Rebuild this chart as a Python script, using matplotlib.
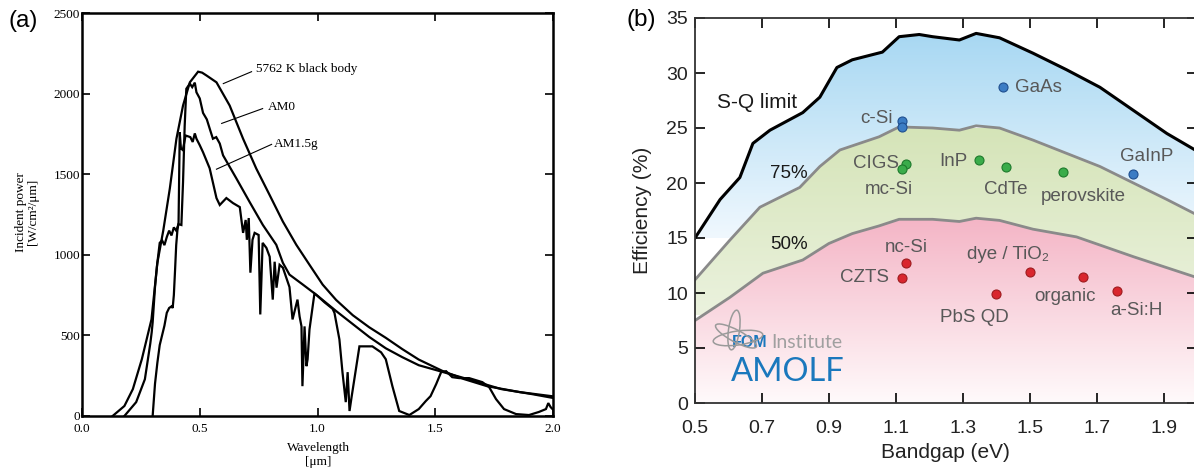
import numpy as np
import matplotlib
matplotlib.use("Agg")
import matplotlib.pyplot as plt
from matplotlib.colors import LinearSegmentedColormap
from matplotlib.patches import Ellipse

# ---- panel (a): solar spectra ----
bb_wl = [0.13, 0.18, 0.216, 0.254, 0.295, 0.32, 0.345, 0.373, 0.401, 0.429, 0.458, 0.493, 0.51, 0.53,
         0.571, 0.627, 0.684, 0.74, 0.797, 0.853, 0.91, 0.966, 1.022, 1.079, 1.15, 1.22, 1.29, 1.36,
         1.43, 1.53, 1.62, 1.72, 1.86, 2.0]
bb_p = [0, 62, 167, 352, 599, 950, 1150, 1412, 1720, 1926, 2070, 2136, 2130, 2111,
        2070, 1926, 1720, 1535, 1370, 1206, 1062, 938, 815, 720, 625, 550, 485, 415,
        350, 280, 230, 185, 148, 122]

am0_wl = [0.18, 0.23, 0.267, 0.29, 0.296, 0.30, 0.31, 0.318, 0.33, 0.34, 0.35, 0.36, 0.37, 0.38, 0.39,
          0.40, 0.41, 0.422, 0.429, 0.436, 0.443, 0.458, 0.468, 0.479, 0.486, 0.50, 0.514, 0.53, 0.545,
          0.556, 0.57, 0.585, 0.599, 0.655, 0.712, 0.768, 0.825, 0.853, 0.881, 0.938, 0.994, 1.08,
          1.15, 1.22, 1.29, 1.36, 1.43, 1.52, 1.64, 1.78, 1.91, 2.0]
am0_p = [0, 86, 228, 450, 520, 580, 800, 926, 1074, 1090, 1060, 1110, 1150, 1120, 1170,
         1150, 1190, 1185, 1450, 1800, 2030, 2062, 2040, 2068, 2008, 1970, 1880, 1840, 1770,
         1720, 1730, 1690, 1617, 1475, 1327, 1185, 1062, 950, 877, 815, 753, 650,
         570, 490, 420, 365, 315, 278, 228, 167, 136, 112]

am15_wl = [0.30, 0.305, 0.31, 0.32, 0.33, 0.34, 0.35, 0.36, 0.37, 0.38, 0.385, 0.39, 0.395, 0.40, 0.405,
           0.41, 0.415, 0.42, 0.428, 0.44, 0.46, 0.47, 0.479, 0.486, 0.50, 0.514, 0.542, 0.571, 0.585,
           0.613, 0.641, 0.67, 0.684, 0.695, 0.70, 0.708, 0.715, 0.724, 0.733, 0.75, 0.757,
           0.767, 0.783, 0.797, 0.81, 0.818, 0.826, 0.839, 0.853, 0.881, 0.894, 0.915, 0.924, 0.932,
           0.936, 0.945, 0.953, 0.958, 0.966, 0.987, 1.0, 1.03, 1.064, 1.072, 1.093, 1.106, 1.12,
           1.128, 1.136, 1.145, 1.165, 1.178, 1.233, 1.27, 1.29, 1.318, 1.347, 1.39, 1.43, 1.46,
           1.48, 1.504, 1.525, 1.546, 1.572, 1.602, 1.644, 1.70, 1.729, 1.758, 1.792, 1.843, 1.898,
           1.94, 1.97, 1.98, 1.99, 2.0]
am15_p = [0, 100, 200, 330, 440, 500, 560, 640, 670, 680, 670, 750, 900, 1060, 1150,
          1200, 1760, 1660, 1650, 1740, 1730, 1700, 1753, 1720, 1680, 1636, 1537, 1352, 1309,
          1352, 1321, 1296, 1136, 1216, 1093, 1228, 889, 1093, 1136, 1123, 630,
          1074, 1043, 988, 722, 957, 796, 938, 920, 800, 599, 722, 617, 556,
          185, 556, 309, 352, 537, 760, 745, 705, 665, 640, 475, 272, 86,
          272, 31, 120, 309, 432, 432, 395, 352, 185, 31, 6, 43, 93,
          123, 198, 272, 278, 241, 235, 235, 210, 179, 105, 43, 12, 6,
          25, 43, 80, 55, 40]

# ---- panel (b): efficiency vs bandgap ----
sq_eg = [0.5, 0.575, 0.634, 0.673, 0.724, 0.822, 0.873, 0.924, 0.97, 1.06, 1.11, 1.17, 1.21, 1.29,
         1.34, 1.41, 1.51, 1.61, 1.71, 1.81, 1.91, 2.0]
sq_eff = [15.0, 18.5, 20.5, 23.6, 24.8, 26.4, 27.8, 30.5, 31.2, 31.9, 33.3, 33.5, 33.3, 33.0,
          33.6, 33.2, 31.8, 30.3, 28.7, 26.6, 24.5, 22.9]
p75_eg = [0.5, 0.604, 0.694, 0.813, 0.873, 0.933, 1.05, 1.11, 1.21, 1.29, 1.34, 1.41, 1.51, 1.61,
          1.71, 1.81, 1.91, 2.0]
p75_eff = [11.2, 14.8, 17.8, 19.6, 21.5, 23.0, 24.2, 25.1, 25.0, 24.8, 25.2, 25.0, 23.9, 22.7,
           21.5, 20.0, 18.5, 17.1]
p50_eg = [0.5, 0.604, 0.703, 0.822, 0.9, 0.97, 1.05, 1.11, 1.21, 1.29, 1.34, 1.41, 1.51, 1.64,
          1.81, 2.0]
p50_eff = [7.5, 9.6, 11.8, 13.0, 14.5, 15.4, 16.1, 16.7, 16.7, 16.5, 16.8, 16.6, 15.8, 15.1,
           13.3, 11.4]

blue_names = ["c-Si", "c-Si", "GaAs", "GaInP"]
blue_eg = [1.12, 1.12, 1.42, 1.81]
blue_eff = [25.6, 25.1, 28.7, 20.8]
green_names = ["CIGS", "mc-Si", "InP", "CdTe", "perovskite"]
green_eg = [1.13, 1.12, 1.35, 1.43, 1.60]
green_eff = [21.7, 21.3, 22.1, 21.5, 21.0]
red_names = ["nc-Si", "CZTS", "PbS QD", "dye / TiO₂", "organic", "a-Si:H"]
red_eg = [1.13, 1.12, 1.40, 1.50, 1.66, 1.76]
red_eff = [12.7, 11.4, 9.9, 11.9, 11.5, 10.2]

W, H = 1194, 472
fig = plt.figure(figsize=(W / 100, H / 100), dpi=100)
serif = ["Liberation Serif", "DejaVu Serif"]
sans = ["Liberation Sans", "DejaVu Sans"]

# ================= (a) =================
ax1 = fig.add_axes([82 / W, 1 - 416 / H, 471 / W, 403 / H])
for wl, p in [(bb_wl, bb_p), (am0_wl, am0_p), (am15_wl, am15_p)]:
    ax1.plot(wl, p, color="black", lw=1.6, solid_joinstyle="miter")
ax1.set_xlim(0, 2.0)
ax1.set_ylim(0, 2500)
ax1.set_xticks([0, 0.5, 1.0, 1.5, 2.0])
ax1.set_xticklabels(["0.0", "0.5", "1.0", "1.5", "2.0"])
ax1.set_yticks([0, 500, 1000, 1500, 2000, 2500])
ax1.tick_params(direction="in", length=6, width=1.2, top=True, right=True, labelsize=9.5, pad=1.5)
ax1.tick_params(axis="x", pad=5)
for lab in ax1.get_xticklabels() + ax1.get_yticklabels():
    lab.set_family(serif)
for s in ax1.spines.values():
    s.set_linewidth(1.8)

ax1.plot([0.60, 0.72], [2062, 2136], color="black", lw=0.8)
ax1.text(0.74, 2150, "5762 K black body", family=serif, fontsize=9.5, va="center")
ax1.plot([0.593, 0.767], [1815, 1907], color="black", lw=0.8)
ax1.text(0.79, 1915, "AM0", family=serif, fontsize=9.5, va="center")
ax1.plot([0.571, 0.805], [1531, 1685], color="black", lw=0.8)
ax1.text(0.815, 1685, "AM1.5g", family=serif, fontsize=9.5, va="center")

fig.text(27 / W, 1 - 212 / H, "Incident power\n[W/cm²/μm]", rotation=90, ha="center", va="center",
         family=serif, fontsize=9.5, linespacing=1.1)
fig.text(318 / W, 1 - 455 / H, "Wavelength\n[μm]", ha="center", va="center",
         family=serif, fontsize=9.5, linespacing=1.2)
fig.text(9 / W, 1 - 21 / H, "(a)", ha="left", va="center", family=sans, fontsize=17.5)

# ================= (b) =================
ax2 = fig.add_axes([695 / W, 1 - 403 / H, 502 / W, 385 / H])
ax2.set_xlim(0.5, 2.0)
ax2.set_ylim(0, 35)


def grad_fill(ax, x, ylo, yhi, c_bot, c_top, y_bot, y_top):
    poly = ax.fill_between(x, ylo, yhi, color="none", lw=0)
    cmap = LinearSegmentedColormap.from_list("g", [c_bot, c_top])
    img = ax.imshow(np.linspace(0, 1, 256).reshape(-1, 1), cmap=cmap, aspect="auto",
                    extent=[0.5, 2.0, y_bot, y_top], origin="lower", zorder=0.5)
    img.set_clip_path(poly.get_paths()[0], transform=ax.transData)


p75_on = np.interp(np.array(sq_eg), p75_eg, p75_eff)
grad_fill(ax2, sq_eg, p75_on, sq_eff, "#f0f8fe", "#a6d7f2", 15, 34)
p50_on = np.interp(np.array(p75_eg), p50_eg, p50_eff)
grad_fill(ax2, p75_eg, p50_on, p75_eff, "#ebf2de", "#d5e4b8", 8, 25)
grad_fill(ax2, p50_eg, np.zeros(len(p50_eg)), p50_eff, "#fffafb", "#f4b4c5", 0, 17)
ax2.set_xlim(0.5, 2.0)
ax2.set_ylim(0, 35)

ax2.plot(sq_eg, sq_eff, color="black", lw=2.2, zorder=3)
ax2.plot(p75_eg, p75_eff, color="#8a8a8a", lw=2.0, zorder=3)
ax2.plot(p50_eg, p50_eff, color="#8a8a8a", lw=2.0, zorder=3)

ax2.plot(blue_eg, blue_eff, "o", ms=6.5, mfc="#3b7cc4", mec="#1f4f8f", mew=0.8, zorder=4)
ax2.plot(green_eg, green_eff, "o", ms=6.5, mfc="#3aac4a", mec="#1e7a2c", mew=0.8, zorder=4)
ax2.plot(red_eg, red_eff, "o", ms=6.5, mfc="#d9262e", mec="#9e1b1f", mew=0.8, zorder=4)

lab_kw = dict(family=sans, fontsize=13.5, color="#585858", va="center", zorder=5)
# blue labels
ax2.text(1.09, 25.9, blue_names[0], ha="right", **lab_kw)
ax2.text(1.455, 28.7, blue_names[2], ha="left", **lab_kw)
ax2.text(1.85, 22.4, blue_names[3], ha="center", **lab_kw)
# green labels
ax2.text(1.11, 21.8, green_names[0], ha="right", **lab_kw)
ax2.text(1.08, 19.4, green_names[1], ha="center", **lab_kw)
ax2.text(1.315, 22.0, green_names[2], ha="right", **lab_kw)
ax2.text(1.43, 19.4, green_names[3], ha="center", **lab_kw)
ax2.text(1.66, 18.8, green_names[4], ha="center", **lab_kw)
# red labels
ax2.text(1.13, 14.1, red_names[0], ha="center", **lab_kw)
ax2.text(1.08, 11.4, red_names[1], ha="right", **lab_kw)
ax2.text(1.335, 7.8, red_names[2], ha="center", **lab_kw)
ax2.text(1.435, 13.5, red_names[3], ha="center", **lab_kw)
ax2.text(1.605, 9.7, red_names[4], ha="center", **lab_kw)
ax2.text(1.82, 8.4, red_names[5], ha="center", **lab_kw)

ax2.text(0.566, 27.3, "S-Q limit", family=sans, fontsize=15, color="#1a1a1a", ha="left", va="center", zorder=5)
ax2.text(0.78, 20.9, "75%", family=sans, fontsize=13.5, color="#1a1a1a", ha="center", va="center", zorder=5)
ax2.text(0.78, 14.4, "50%", family=sans, fontsize=13.5, color="#1a1a1a", ha="center", va="center", zorder=5)

# AMOLF logo
ax2.text(0.61, 5.5, "FOM", family=sans, fontsize=11.5, fontweight="bold", color="#1a78bd",
         ha="left", va="center", zorder=5)
ax2.text(0.727, 5.5, "Institute", family=["Lato", "DejaVu Sans"], fontsize=14, color="#a0a0a0",
         ha="left", va="center", zorder=5)
ax2.text(0.607, 2.85, "AMOLF", family=["Lato", "DejaVu Sans"], fontsize=23.5, color="#1a78bd",
         ha="left", va="center", zorder=5)
axl = fig.add_axes([708 / W, 1 - 356 / H, 62 / W, 48 / H])
axl.set_xlim(0, 62)
axl.set_ylim(0, 48)
axl.set_aspect("equal")
axl.axis("off")
for cx, cy, w, h, ang in [(26, 26, 11, 40, -8), (30, 18, 50, 14, 8), (28, 20, 46, 12, -28)]:
    axl.add_patch(Ellipse((cx, cy), w, h, angle=ang, fill=False, ec="#9a9a9a", lw=1.1))

ax2.set_xticks(np.arange(0.5, 2.0, 0.2))
ax2.set_xticklabels(["0.5", "0.7", "0.9", "1.1", "1.3", "1.5", "1.7", "1.9"])
ax2.set_yticks(range(0, 36, 5))
ax2.tick_params(direction="in", length=7, width=1.2, top=True, right=True, labelsize=14,
                labelcolor="#222222", pad=5)
ax2.tick_params(axis="x", pad=12)
for lab in ax2.get_xticklabels() + ax2.get_yticklabels():
    lab.set_family(sans)
for s in ax2.spines.values():
    s.set_linewidth(1.3)
    s.set_color("#333333")
    s.set_zorder(6)

fig.text(643 / W, 1 - 210 / H, "Efficiency (%)", rotation=90, ha="center", va="center",
         family=sans, fontsize=15, color="#222222")
fig.text(945 / W, 1 - 452 / H, "Bandgap (eV)", ha="center", va="center",
         family=sans, fontsize=15, color="#222222")
fig.text(627 / W, 1 - 20 / H, "(b)", ha="left", va="center", family=sans, fontsize=17.5)

fig.savefig("out.png", dpi=100)
